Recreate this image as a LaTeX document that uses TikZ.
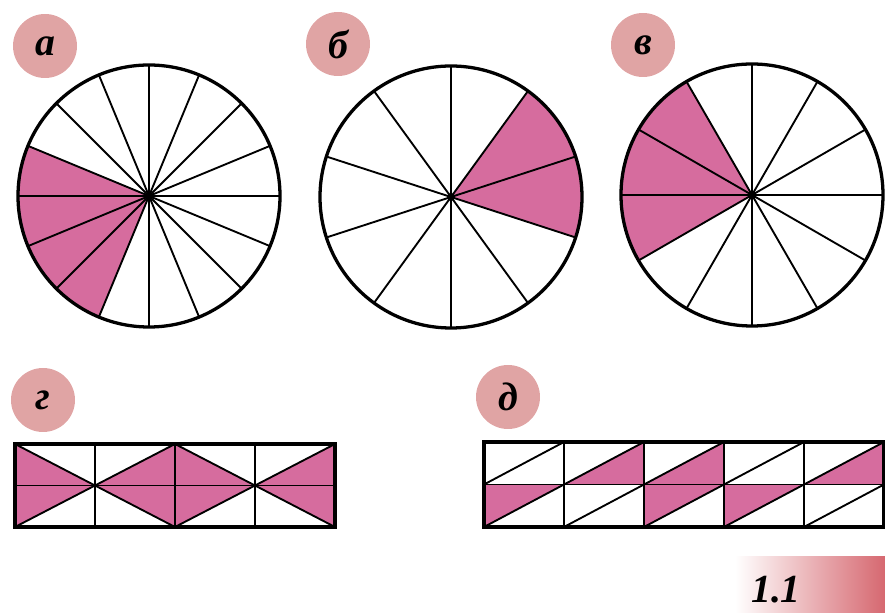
\documentclass[tikz,border=0pt]{standalone}
\usepackage{fontspec}
\setmainfont{Liberation Serif}
\usepackage{xcolor}
\usetikzlibrary{calc}

\definecolor{part}{RGB}{214,108,158}
\definecolor{badge}{RGB}{224,164,164}
\definecolor{tag}{RGB}{214,104,112}

\tikzset{
  spoke/.style={line width=1.6pt},
  rim/.style={line width=2.8pt},
  frame/.style={line width=2.8pt},
  badge/.style={circle, fill=badge, inner sep=0pt, minimum size=1.92cm,
    font=\fontsize{34}{38}\selectfont\bfseries\itshape},
}

\begin{document}
\begin{tikzpicture}[x=0.03cm, y=0.03cm]
\useasboundingbox (0,0) rectangle (885,613);

% letter badges
\node[badge] (la) at (45,567) {а};
\node[badge] (lb) at (338,569) {б};
\node[badge] (lv) at (643,568) {в};
\node[badge] (lg) at (43,213) {г};
\node[badge] (ld) at (508,216) {д};

% circles: centre / parts / first and last coloured spoke
\foreach \name/\cx/\cy/\n/\from/\to in {ca/149/417/16/157.5/247.5,
    cb/451/416/10/-18/54, cv/752/418/12/120/210} {
  \coordinate (\name) at (\cx,\cy);
  \fill[part] (\name) -- ++(\from:131) arc[start angle=\from, end angle=\to, radius=131] -- cycle;
  \pgfmathsetmacro\step{360/\n}
  \foreach \k in {1,...,\n}
    \draw[spoke] (\name) -- ++({\from+\k*\step}:131);
  \draw[rim] (\name) circle[radius=131];
  \fill (\name) circle[radius=4];
}

% strip g: 4 cells, two zigzags
\coordinate (g0) at (15,86);
\foreach \i in {0,2} {
  \fill[part] ($(g0)+(80*\i,83)$) -- ++(80,-41.5) -- ++(-80,-41.5) -- cycle;
  \fill[part] ($(g0)+(80*\i+80,41.5)$) -- ++(80,41.5) -- ++(0,-83) -- cycle;
}
\foreach \i in {1,2,3}
  \draw[spoke] ($(g0)+(80*\i,0)$) -- ++(0,83);
\draw[spoke] ($(g0)+(0,41.5)$) -- ++(320,0);
\draw[spoke] (g0) -- ++(80,41.5) -- ++(80,-41.5) -- ++(80,41.5) -- ++(80,-41.5);
\draw[spoke] ($(g0)+(0,83)$) -- ++(80,-41.5) -- ++(80,41.5) -- ++(80,-41.5) -- ++(80,41.5);
\draw[frame] (g0) rectangle ++(320,83);

% strip d: 5 cells, each half cut by a diagonal
\coordinate (d0) at (484,86);
\foreach \i in {1,2,4}
  \fill[part] ($(d0)+(80*\i,42.5)$) -- ++(80,42.5) -- ++(0,-42.5) -- cycle;
\foreach \i in {0,2,3}
  \fill[part] ($(d0)+(80*\i,42.5)$) -- ++(80,0) -- ++(-80,-42.5) -- cycle;
\foreach \i in {0,...,4} {
  \draw[spoke] ($(d0)+(80*\i,42.5)$) -- ++(80,42.5);
  \draw[spoke] ($(d0)+(80*\i,0)$) -- ++(80,42.5);
}
\foreach \i in {1,...,4}
  \draw[spoke] ($(d0)+(80*\i,0)$) -- ++(0,85);
\draw[spoke] ($(d0)+(0,42.5)$) -- ++(400,0);
\draw[frame] (d0) rectangle ++(400,85);

% figure tag
\shade[left color=white, right color=tag] (735,0) rectangle (885,56);
\node[font=\fontsize{34}{38}\selectfont\bfseries\itshape] (tag) at (776,23) {1.1};
\end{tikzpicture}
\end{document}
